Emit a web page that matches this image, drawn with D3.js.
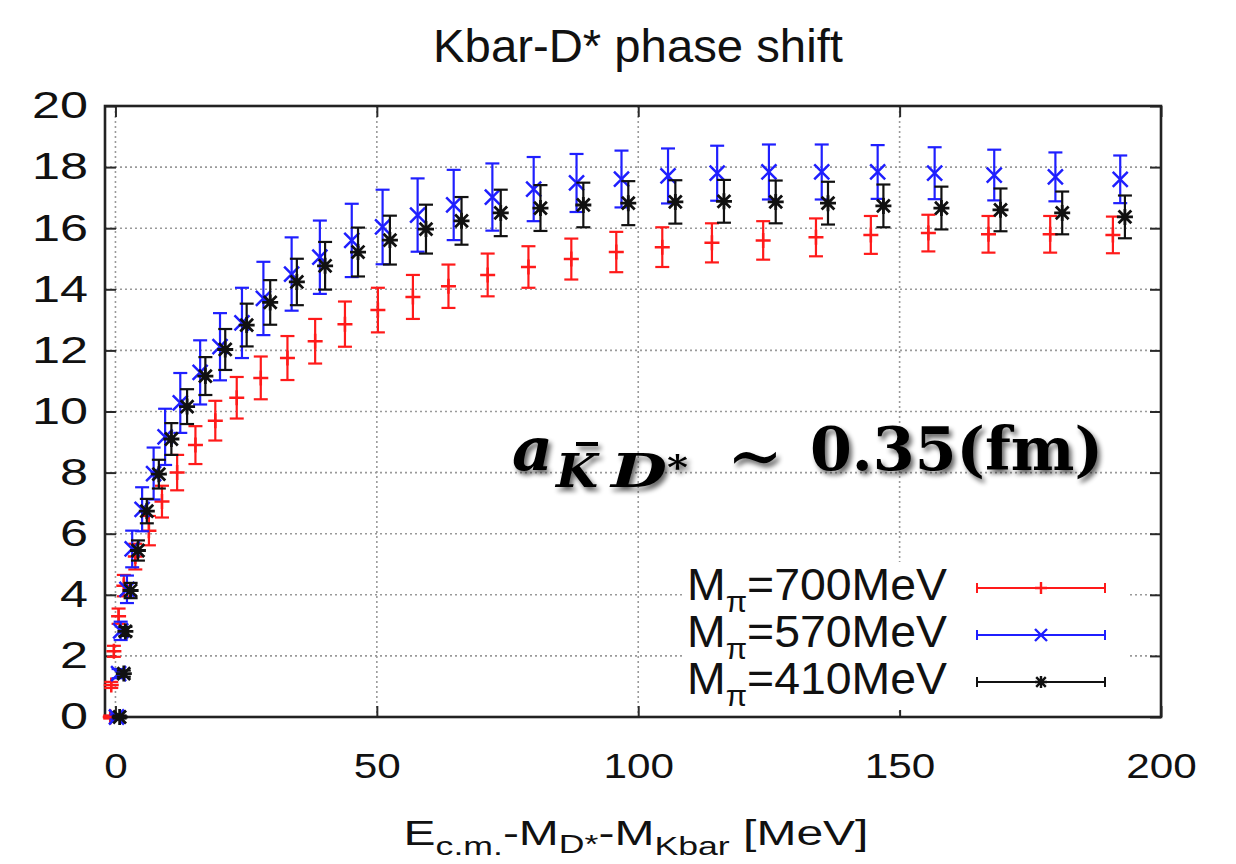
<!DOCTYPE html>
<html>
<head>
<meta charset="utf-8">
<script src="https://cdn.jsdelivr.net/npm/d3@7"></script>
<style>
  html, body { margin: 0; padding: 0; background: #fff; }
  svg { display: block; }
</style>
</head>
<body>
<div id="chart"></div>
<script>
// ---- data ----
const xTicks = [0, 50, 100, 150, 200];
const yTicks = [0, 2, 4, 6, 8, 10, 12, 14, 16, 18, 20];
const pionMasses = [700, 570, 410];

// M_pi = 700 MeV (red)
const x700 = [-1.0, -0.8, -0.3, 0.6, 1.6, 3.8, 6.4, 8.9, 11.8, 15.3, 19.1, 23.2, 27.8, 32.9, 38.2, 43.9,
  50.2, 56.9, 63.7, 71.2, 79.0, 87.2, 95.8, 104.6, 114.1, 123.9, 134.0, 144.5, 155.5, 167.0, 178.8, 190.8];
const y700 = [0.0, 1.05, 2.15, 3.3, 4.3, 5.25, 6.1, 7.05, 8.0, 8.9, 9.7, 10.45, 11.1, 11.75, 12.3, 12.86,
  13.32, 13.75, 14.1, 14.47, 14.73, 14.99, 15.22, 15.38, 15.52, 15.6, 15.7, 15.78, 15.84, 15.8, 15.8, 15.78];
const e700 = [0.05, 0.1, 0.18, 0.25, 0.35, 0.42, 0.48, 0.52, 0.58, 0.62, 0.65, 0.68, 0.7, 0.72, 0.73, 0.74,
  0.73, 0.72, 0.71, 0.7, 0.68, 0.67, 0.66, 0.65, 0.64, 0.63, 0.62, 0.62, 0.6, 0.6, 0.6, 0.6];

// M_pi = 570 MeV (blue)
const x570 = [0.2, 0.6, 1.0, 2.2, 3.2, 5.1, 7.3, 9.5, 12.4, 16.2, 20.0, 24.2, 28.3, 33.7, 39.1, 45.2,
  51.1, 57.8, 64.7, 72.1, 80.0, 88.2, 96.8, 105.7, 115.1, 125.0, 135.1, 145.8, 156.7, 168.1, 179.8, 192.2];
const y570 = [0.0, 1.42, 2.82, 4.18, 5.5, 6.8, 7.97, 9.17, 10.28, 11.28, 12.12, 12.9, 13.7, 14.5, 15.05, 15.6,
  16.04, 16.43, 16.76, 17.02, 17.28, 17.48, 17.61, 17.71, 17.8, 17.84, 17.84, 17.84, 17.8, 17.74, 17.68, 17.6];
const e570 = [0.08, 0.15, 0.3, 0.45, 0.6, 0.72, 0.85, 0.92, 0.98, 1.05, 1.1, 1.15, 1.2, 1.2, 1.2, 1.2,
  1.22, 1.2, 1.15, 1.1, 1.05, 0.95, 0.93, 0.9, 0.9, 0.9, 0.9, 0.88, 0.85, 0.83, 0.8, 0.78];

// M_pi = 410 MeV (black)
const x410 = [0.8, 1.6, 1.9, 2.9, 4.3, 6.0, 8.3, 10.7, 13.7, 17.2, 21.0, 25.1, 29.6, 34.7, 40.1, 46.4,
  52.5, 59.4, 66.2, 73.7, 81.3, 89.5, 98.1, 107.1, 116.4, 126.3, 136.3, 146.9, 158.0, 169.3, 181.1, 193.1];
const y410 = [0.0, 1.42, 2.8, 4.14, 5.45, 6.74, 7.95, 9.1, 10.16, 11.16, 12.03, 12.83, 13.57, 14.24, 14.77, 15.22,
  15.61, 15.97, 16.24, 16.5, 16.66, 16.76, 16.82, 16.86, 16.88, 16.86, 16.82, 16.73, 16.66, 16.6, 16.5, 16.37];
const e410 = [0.05, 0.1, 0.15, 0.25, 0.33, 0.4, 0.47, 0.52, 0.57, 0.62, 0.67, 0.7, 0.73, 0.76, 0.78, 0.8,
  0.8, 0.8, 0.78, 0.76, 0.75, 0.73, 0.72, 0.71, 0.7, 0.7, 0.7, 0.7, 0.7, 0.7, 0.7, 0.7];

const series = [
  { mass: pionMasses[0], xs: x700, ys: y700, es: e700, color: "#ff1a1a", marker: "plus" },
  { mass: pionMasses[1], xs: x570, ys: y570, es: e570, color: "#1f1fff", marker: "cross" },
  { mass: pionMasses[2], xs: x410, ys: y410, es: e410, color: "#111111", marker: "star" }
];

// ---- layout ----
const W = 1236, H = 864;
const plot = { left: 105, top: 106, right: 1161, bottom: 717 };
const SANS = "'Liberation Sans', Arial, Helvetica, sans-serif";

const svg = d3.select("#chart").append("svg")
  .attr("width", W).attr("height", H)
  .attr("viewBox", `0 0 ${W} ${H}`)
  .style("background", "#fff");

const defs = svg.append("defs");
const shadow = defs.append("filter").attr("id", "shadow")
  .attr("x", "-10%").attr("y", "-20%").attr("width", "130%").attr("height", "160%");
shadow.append("feGaussianBlur").attr("in", "SourceAlpha").attr("stdDeviation", 2.6).attr("result", "blur");
shadow.append("feOffset").attr("in", "blur").attr("dx", 3).attr("dy", 4).attr("result", "off");
shadow.append("feComponentTransfer").attr("in", "off").attr("result", "soft")
  .append("feFuncA").attr("type", "linear").attr("slope", 0.6);
const merge = shadow.append("feMerge");
merge.append("feMergeNode").attr("in", "soft");
merge.append("feMergeNode").attr("in", "SourceGraphic");

const x = d3.scaleLinear().domain([-2, 200]).range([plot.left, plot.right]);
const y = d3.scaleLinear().domain([0, 20]).range([plot.bottom, plot.top]);

// squeeze / stretch text horizontally to a measured width
function fitWidth(sel, w, cx) {
  const bb = sel.node().getBBox();
  const k = w / bb.width;
  sel.attr("transform", `translate(${cx},0) scale(${k},1) translate(${-cx},0)`);
}

// ---- grid ----
const grid = svg.append("g")
  .attr("stroke", "#9a9a9a")
  .attr("stroke-width", 1.6)
  .attr("stroke-dasharray", "2,3");
grid.selectAll(".gy").data(yTicks.filter(v => v > 0 && v < 20)).join("line")
  .attr("x1", plot.left).attr("x2", plot.right)
  .attr("y1", d => y(d)).attr("y2", d => y(d));
grid.selectAll(".gx").data(xTicks.filter(v => v < 200)).join("line")
  .attr("x1", d => x(d)).attr("x2", d => x(d))
  .attr("y1", plot.top).attr("y2", plot.bottom);

// ---- axes ----
function styleAxis(g, size, perDigit) {
  g.select(".domain").remove();
  g.selectAll(".tick line").attr("stroke", "#2a2a2a").attr("stroke-width", 2);
  g.selectAll(".tick text")
    .attr("fill", "#111")
    .attr("font-family", SANS)
    .attr("font-size", size)
    .attr("textLength", d => String(d).length * perDigit)
    .attr("lengthAdjust", "spacingAndGlyphs");
}

svg.append("g")
  .attr("transform", `translate(${plot.left},0)`)
  .call(d3.axisLeft(y).tickValues(yTicks).tickSizeInner(-11).tickSizeOuter(0).tickPadding(17))
  .call(g => styleAxis(g, 37, 28));

svg.append("g")
  .attr("transform", `translate(${plot.right},0)`)
  .call(d3.axisRight(y).tickValues(yTicks).tickSizeInner(-11).tickSizeOuter(0).tickFormat(""))
  .call(g => styleAxis(g, 35, 23.5));

svg.append("g")
  .attr("transform", `translate(0,${plot.bottom})`)
  .call(d3.axisBottom(x).tickValues(xTicks).tickSizeInner(-11).tickSizeOuter(0).tickPadding(36))
  .call(g => styleAxis(g, 35, 23.5));

svg.append("g")
  .attr("transform", `translate(0,${plot.top})`)
  .call(d3.axisTop(x).tickValues(xTicks).tickSizeInner(-11).tickSizeOuter(0).tickFormat(""))
  .call(g => styleAxis(g, 35, 23.5));

// frame
svg.append("rect")
  .attr("x", plot.left).attr("y", plot.top)
  .attr("width", plot.right - plot.left).attr("height", plot.bottom - plot.top)
  .attr("fill", "none").attr("stroke", "#222").attr("stroke-width", 2.6);

// ---- markers ----
function markerPath(type, s) {
  if (type === "plus") return `M${-s},0H${s}M0,${-s}V${s}`;
  if (type === "cross") return `M${-s},${-s}L${s},${s}M${-s},${s}L${s},${-s}`;
  const d = s * 0.8;
  return `M${-s},0H${s}M0,${-s}V${s}M${-d},${-d}L${d},${d}M${-d},${d}L${d},${-d}`;
}

const CAP = 7;
const marks = svg.append("g");

series.forEach(s => {
  const pts = s.xs.map((xv, i) => ({ x: xv, y: s.ys[i], e: s.es[i] }));
  const g = marks.append("g")
    .attr("stroke", s.color)
    .attr("stroke-width", 2.2)
    .attr("fill", "none");

  const p = g.selectAll("g").data(pts).join("g")
    .attr("transform", d => `translate(${x(d.x)},0)`);

  p.append("line")
    .attr("x1", 0).attr("x2", 0)
    .attr("y1", d => y(d.y - d.e)).attr("y2", d => y(d.y + d.e));
  p.append("line")
    .attr("x1", -CAP).attr("x2", CAP)
    .attr("y1", d => y(d.y + d.e)).attr("y2", d => y(d.y + d.e));
  p.append("line")
    .attr("x1", -CAP).attr("x2", CAP)
    .attr("y1", d => y(d.y - d.e)).attr("y2", d => y(d.y - d.e));
  p.append("path")
    .attr("transform", d => `translate(0,${y(d.y)})`)
    .attr("stroke-width", s.marker === "star" ? 2.8 : 2.5)
    .attr("d", markerPath(s.marker, s.marker === "star" ? 8 : 7.5));
});

// ---- legend (opaque key) ----
const legend = svg.append("g");
legend.append("rect")
  .attr("x", 683).attr("y", 562).attr("width", 445).attr("height", 148)
  .attr("fill", "#fff");

const rowY = [588, 635, 682];
const sampleX = [977, 1105];

series.forEach((s, i) => {
  const t = legend.append("text")
    .attr("x", 947).attr("y", rowY[i] + 12)
    .attr("text-anchor", "end")
    .attr("font-family", SANS)
    .attr("font-size", 45)
    .attr("fill", "#111");
  t.append("tspan").text("M");
  t.append("tspan").attr("font-size", 30).attr("dy", 12).text("π");
  t.append("tspan").attr("dy", -12).text(`=${s.mass}MeV`);
  fitWidth(t, 260, 947);

  const lg = legend.append("g").attr("stroke", s.color).attr("stroke-width", 2).attr("fill", "none");
  lg.append("line").attr("x1", sampleX[0]).attr("x2", sampleX[1]).attr("y1", rowY[i]).attr("y2", rowY[i]);
  lg.append("line").attr("x1", sampleX[0]).attr("x2", sampleX[0]).attr("y1", rowY[i] - 5).attr("y2", rowY[i] + 5);
  lg.append("line").attr("x1", sampleX[1]).attr("x2", sampleX[1]).attr("y1", rowY[i] - 5).attr("y2", rowY[i] + 5);
  lg.append("path")
    .attr("transform", `translate(${(sampleX[0] + sampleX[1]) / 2},${rowY[i]})`)
    .attr("stroke-width", 2.4)
    .attr("d", markerPath(s.marker, 6));
});

// ---- title and axis label ----
const title = svg.append("text")
  .attr("x", 638).attr("y", 62)
  .attr("text-anchor", "middle")
  .attr("font-family", SANS)
  .attr("font-size", 47)
  .attr("fill", "#111")
  .text("Kbar-D* phase shift");
fitWidth(title, 410, 638);

const xl = svg.append("text")
  .attr("x", 636).attr("y", 845)
  .attr("text-anchor", "middle")
  .attr("font-family", SANS)
  .attr("font-size", 35)
  .attr("fill", "#111");
xl.append("tspan").text("E");
xl.append("tspan").attr("font-size", 26).attr("dy", 10).text("c.m.");
xl.append("tspan").attr("dy", -10).text("-M");
xl.append("tspan").attr("font-size", 26).attr("dy", 8).text("D*");
xl.append("tspan").attr("dy", -8).text("-M");
xl.append("tspan").attr("font-size", 26).attr("dy", 10).text("Kbar");
xl.append("tspan").attr("dy", -10).text(" [MeV]");
fitWidth(xl, 465, 636);

// ---- annotation: scattering length ----
const SERIF = "'DejaVu Serif', 'Liberation Serif', serif";
const ann = svg.append("g")
  .attr("filter", "url(#shadow)")
  .attr("font-family", SERIF)
  .attr("font-weight", "bold")
  .attr("fill", "#000");

ann.append("text").attr("x", 512).attr("y", 470)
  .attr("font-style", "italic").attr("font-size", 60)
  .attr("textLength", 41).attr("lengthAdjust", "spacingAndGlyphs")
  .text("a");
ann.append("text").attr("x", 556).attr("y", 487)
  .attr("font-style", "italic").attr("font-size", 46)
  .attr("textLength", 42).attr("lengthAdjust", "spacingAndGlyphs")
  .text("K");
ann.append("rect").attr("x", 576).attr("y", 442).attr("width", 22).attr("height", 4);
ann.append("text").attr("x", 611).attr("y", 487)
  .attr("font-style", "italic").attr("font-size", 46)
  .attr("textLength", 56).attr("lengthAdjust", "spacingAndGlyphs")
  .text("D");
ann.append("text").attr("x", 667).attr("y", 479)
  .attr("font-size", 34)
  .attr("textLength", 21).attr("lengthAdjust", "spacingAndGlyphs")
  .text("*");
ann.append("text").attr("x", 727).attr("y", 481)
  .attr("font-size", 74).attr("font-weight", "normal")
  .attr("textLength", 56).attr("lengthAdjust", "spacingAndGlyphs")
  .text("∼");
ann.append("text").attr("x", 810).attr("y", 470)
  .attr("font-size", 60)
  .attr("textLength", 293).attr("lengthAdjust", "spacingAndGlyphs")
  .text("0.35(fm)");
</script>
</body>
</html>
